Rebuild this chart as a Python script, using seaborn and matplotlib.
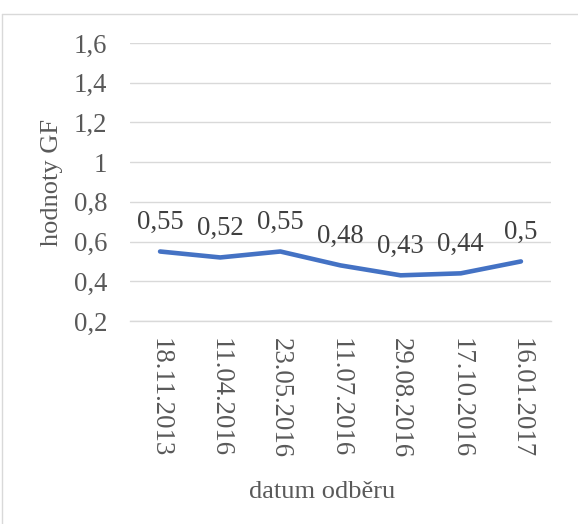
import matplotlib
matplotlib.use("Agg")
import matplotlib.pyplot as plt
import numpy as np
import pandas as pd
import seaborn as sns
from matplotlib.lines import Line2D
from matplotlib.ticker import FixedLocator, FuncFormatter

dates = ["18.11.2013", "11.04.2016", "23.05.2016", "11.07.2016",
         "29.08.2016", "17.10.2016", "16.01.2017"]
gf_values = [0.55, 0.52, 0.55, 0.48, 0.43, 0.44, 0.5]
y_ticks = [0.2, 0.4, 0.6, 0.8, 1.0, 1.2, 1.4, 1.6]

sns.set_theme(style="white")
plt.rcParams["font.family"] = ["Liberation Serif", "DejaVu Serif"]

text_color = "#595959"
grid_color = "#D9D9D9"
line_color = "#4472C4"
fs = 19.3

W, H = 578, 524
fig = plt.figure(figsize=(W / 100, H / 100), dpi=100)
ax = fig.add_axes([130 / W, (H - 321) / H, (551 - 130) / W, (321 - 43) / H])

df = pd.DataFrame({"pos": np.arange(len(dates)), "gf": gf_values})
sns.lineplot(data=df, x="pos", y="gf", ax=ax, color=line_color,
             linewidth=3.3, solid_capstyle="round", solid_joinstyle="round",
             zorder=3)

ax.set_xlim(-0.5, len(dates) - 0.5)
ax.set_ylim(y_ticks[0], y_ticks[-1])

# horizontal gridlines
ax.yaxis.set_major_locator(FixedLocator(y_ticks))
ax.yaxis.set_major_formatter(FuncFormatter(
    lambda v, _: f"{v:.1f}".rstrip("0").rstrip(".").replace(".", ",")))
ax.grid(axis="y", color=grid_color, linewidth=1.0)
ax.grid(axis="x", visible=False)
ax.tick_params(axis="y", length=0, pad=16.5, labelsize=fs, labelcolor=text_color)

# category boundaries as tick marks, labels centred on categories
ax.xaxis.set_major_locator(FixedLocator(np.arange(-0.5, len(dates), 1.0)))
ax.xaxis.set_major_formatter(FuncFormatter(lambda v, _: ""))
ax.set_xticks(np.arange(len(dates)), labels=dates, minor=True)
ax.tick_params(axis="x", which="major", length=5, width=1.0, color=grid_color,
               direction="out")
ax.tick_params(axis="x", which="minor", length=0, pad=12, labelsize=fs,
               labelcolor=text_color, labelrotation=270)
for lbl in ax.get_xticklabels(minor=True):
    lbl.set_verticalalignment("top")
    lbl.set_horizontalalignment("center")

for side in ["left", "right", "top"]:
    ax.spines[side].set_visible(False)
ax.spines["bottom"].set_color(grid_color)
ax.spines["bottom"].set_linewidth(1.0)

# value labels above each point
for i, v in enumerate(gf_values):
    ax.annotate(f"{v:g}".replace(".", ","), (i, v), xytext=(0, 16.5),
                textcoords="offset points", ha="center", va="baseline",
                fontsize=fs, color="#404040")

ax.set_xlabel("")
ax.set_ylabel("")
fig.text(322 / W, 1 - 492 / H, "datum odběru", ha="center", va="center",
         fontsize=19, color=text_color)
fig.text(52 / W, 1 - 182 / H, "hodnoty GF", ha="center", va="center",
         rotation=90, fontsize=19, color=text_color)

# chart-area frame
fig.add_artist(Line2D([2 / W, 2 / W], [0, 1 - 14 / H], transform=fig.transFigure,
                      color=grid_color, linewidth=1.0))
fig.add_artist(Line2D([2 / W, 1], [1 - 14 / H, 1 - 14 / H], transform=fig.transFigure,
                      color=grid_color, linewidth=1.0))

fig.savefig("out.png", dpi=100, facecolor="white")
